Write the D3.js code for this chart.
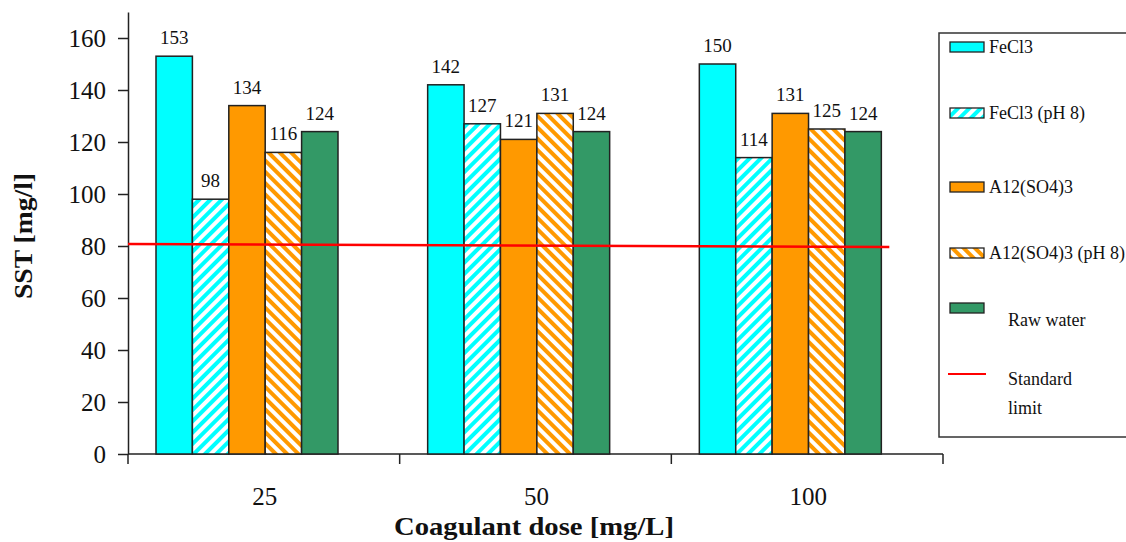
<!DOCTYPE html>
<html>
<head>
<meta charset="utf-8">
<script src="https://cdn.jsdelivr.net/npm/d3@7"></script>
<style>
  body { margin: 0; background: #fff; }
  svg text { font-family: "Liberation Serif", "DejaVu Serif", serif; }
</style>
</head>
<body>
<svg id="chart"></svg>
<script>
// data
const doses = ['25', '50', '100'];
const seriesNames = ['FeCl3', 'FeCl3 (pH 8)', 'A12(SO4)3', 'A12(SO4)3 (pH 8)', 'Raw water'];
const fecl3 = [153, 142, 150];
const fecl3ph8 = [98, 127, 114];
const al2so43 = [134, 121, 131];
const al2so43ph8 = [116, 131, 125];
const rawWater = [124, 124, 124];
const standardLimit = [80.8, 79.6]; // start / end of the red line
const yTicks = [0, 20, 40, 60, 80, 100, 120, 140, 160];

const series = [fecl3, fecl3ph8, al2so43, al2so43ph8, rawWater];
const SERIF = '"Liberation Serif", "DejaVu Serif", serif';

const W = 1126, H = 542;
const svg = d3.select('#chart').attr('width', W).attr('height', H)
  .attr('font-family', SERIF);

const defs = svg.append('defs');
function hatch(id, color, angle) {
  const p = defs.append('pattern')
    .attr('id', id)
    .attr('patternUnits', 'userSpaceOnUse')
    .attr('width', 8).attr('height', 8)
    .attr('patternTransform', `rotate(${angle})`);
  p.append('rect').attr('width', 8).attr('height', 8).attr('fill', '#fff');
  p.append('rect').attr('width', 4).attr('height', 8).attr('fill', color);
}
hatch('hatchCyan', '#00ffff', 45);
hatch('hatchOrange', '#ff9900', -45);

const fills = ['#00ffff', 'url(#hatchCyan)', '#ff9900', 'url(#hatchOrange)', '#339966'];

/* scales */
const x = d3.scaleBand().domain(doses).range([128, 943]);
const inner = d3.scaleBand().domain(d3.range(series.length))
  .range([28, 28 + 182]);
const y = d3.scaleLinear().domain([0, 170]).range([454, 12]);

/* axes */
svg.append('g')
  .attr('transform', 'translate(128,0)')
  .call(d3.axisLeft(y).tickValues(yTicks).tickSize(10).tickPadding(12).tickSizeOuter(0))
  .call(g => g.select('.domain').attr('stroke', '#222').attr('stroke-width', 1.5))
  .call(g => g.selectAll('.tick line').attr('stroke', '#222').attr('stroke-width', 1.5))
  .call(g => g.selectAll('.tick text')
    .attr('font-size', 25).attr('fill', '#111')
    .style('font-family', SERIF));

const xAxis = svg.append('g').attr('transform', 'translate(0,454)');
xAxis.append('line')
  .attr('x1', x.range()[0]).attr('x2', x.range()[1])
  .attr('stroke', '#222').attr('stroke-width', 1.5);
xAxis.selectAll('.xt')
  .data(doses.map(d => x(d)).concat([x.range()[1]]))
  .enter().append('line')
  .attr('x1', d => d).attr('x2', d => d)
  .attr('y1', 0).attr('y2', 10)
  .attr('stroke', '#222').attr('stroke-width', 1.5);
xAxis.selectAll('.xl')
  .data(doses)
  .enter().append('text')
  .attr('x', d => x(d) + x.bandwidth() / 2 + 1)
  .attr('y', 51)
  .attr('text-anchor', 'middle')
  .attr('font-size', 25).attr('fill', '#111')
  .style('font-family', SERIF)
  .text(d => d);

/* bars */
series.forEach((vals, si) => {
  const g = svg.append('g');
  g.selectAll('rect')
    .data(vals)
    .enter().append('rect')
    .attr('x', (d, i) => x(doses[i]) + inner(si))
    .attr('y', d => y(d))
    .attr('width', inner.bandwidth())
    .attr('height', d => y(0) - y(d))
    .attr('fill', fills[si])
    .attr('stroke', '#222').attr('stroke-width', 1.5);
  g.selectAll('text')
    .data(vals)
    .enter().append('text')
    .attr('x', (d, i) => x(doses[i]) + inner(si) + inner.bandwidth() / 2)
    .attr('y', d => y(d) - 12)
    .attr('text-anchor', 'middle')
    .attr('font-size', 19).attr('fill', '#111')
    .style('font-family', SERIF)
    .text(d => d);
});

/* standard limit line */
const lineEnd = x(doses[doses.length - 1]) + inner.range()[1] + 8;
svg.append('line')
  .attr('x1', x.range()[0]).attr('x2', lineEnd)
  .attr('y1', y(standardLimit[0])).attr('y2', y(standardLimit[1]))
  .attr('stroke', '#ff0000').attr('stroke-width', 2.5);

/* axis titles */
svg.append('text')
  .attr('transform', 'translate(32,236) rotate(-90)')
  .attr('text-anchor', 'middle')
  .attr('font-size', 26).attr('font-weight', 'bold').attr('fill', '#111')
  .style('font-family', SERIF)
  .attr('textLength', 126).attr('lengthAdjust', 'spacingAndGlyphs')
  .text('SST [mg/l]');
svg.append('text')
  .attr('x', 534).attr('y', 535)
  .attr('text-anchor', 'middle')
  .attr('font-size', 26).attr('font-weight', 'bold').attr('fill', '#111')
  .style('font-family', SERIF)
  .attr('textLength', 280).attr('lengthAdjust', 'spacingAndGlyphs')
  .text('Coagulant dose [mg/L]');

/* legend */
const legend = svg.append('g');
legend.append('rect')
  .attr('x', 939).attr('y', 33).attr('width', 200).attr('height', 404)
  .attr('fill', '#fff').attr('stroke', '#333').attr('stroke-width', 1.5);
const legendY = [47, 113, 187, 253, 308];
seriesNames.forEach((name, i) => {
  legend.append('rect')
    .attr('x', 950).attr('y', legendY[i] - 5)
    .attr('width', 34).attr('height', 10)
    .attr('fill', fills[i]).attr('stroke', '#222').attr('stroke-width', 1.3);
  legend.append('text')
    .attr('x', i === 4 ? 1008 : 989)
    .attr('y', i === 4 ? 326 : legendY[i] + 6)
    .attr('font-size', 18).attr('fill', '#111')
    .style('font-family', SERIF)
    .text(name);
});
legend.append('line')
  .attr('x1', 948).attr('x2', 986).attr('y1', 374).attr('y2', 374)
  .attr('stroke', '#ff0000').attr('stroke-width', 2);
legend.append('text')
  .attr('x', 1008).attr('y', 385)
  .attr('font-size', 18).attr('fill', '#111')
  .style('font-family', SERIF)
  .text('Standard');
legend.append('text')
  .attr('x', 1008).attr('y', 414)
  .attr('font-size', 18).attr('fill', '#111')
  .style('font-family', SERIF)
  .text('limit');
</script>
</body>
</html>
